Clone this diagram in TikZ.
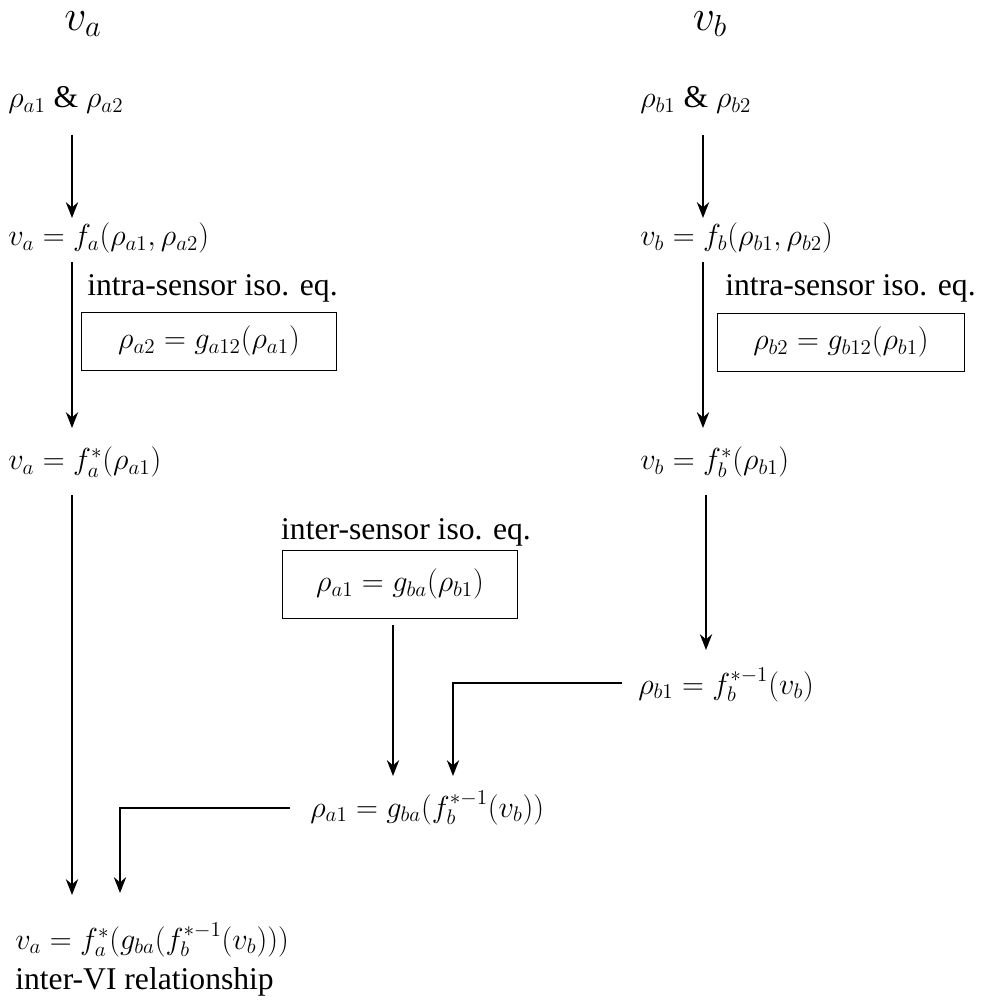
\documentclass[tikz,border=0pt]{standalone}
\usepackage{fontspec}
\setmainfont{Liberation Serif}
\usetikzlibrary{arrows.meta}
\begin{document}
\begin{tikzpicture}[x=0.02cm,y=-0.02cm,
  every node/.style={font=\fontsize{18}{22}\selectfont,inner sep=0pt},
  eq/.style={anchor=west},
  bx/.style={draw,line width=0.5pt,minimum width=#1*0.02cm,minimum height=58*0.02cm},
  ar/.style={line width=1pt,-{Stealth[length=9pt,width=7pt]}},
  ln/.style={line width=1pt}]
\useasboundingbox (0,0) rectangle (985,1000);
\node (VA) at (83,24) {\fontsize{26}{30}\selectfont $v_a$};
\node (VB) at (710,24) {\fontsize{26}{30}\selectfont $v_b$};
% left column
\node[eq] (a1) at (8,100) {$\rho_{a1}$ \& $\rho_{a2}$};
\node[eq] (a2) at (8,238) {$v_a = f_a(\rho_{a1},\rho_{a2})$};
\node[eq] (la) at (87,288) {intra-sensor iso. eq.};
\node[bx=255] (ba) at (209,341) {$\rho_{a2} = g_{a12}(\rho_{a1})$};
\node[eq] (a3) at (8,462) {$v_a = f^*_a(\rho_{a1})$};
\coordinate (a1s) at (72,135); \coordinate (a1e) at (72,218);
\coordinate (a2s) at (72,262); \coordinate (a2e) at (72,428);
\coordinate (a3s) at (72,495); \coordinate (a3e) at (72,895);
\draw[ar] (a1s) -- (a1e);
\draw[ar] (a2s) -- (a2e);
\draw[ar] (a3s) -- (a3e);
% right column
\node[eq] (b1) at (640,100) {$\rho_{b1}$ \& $\rho_{b2}$};
\node[eq] (b2) at (640,238) {$v_b = f_b(\rho_{b1},\rho_{b2})$};
\node[eq] (lb) at (725,288) {intra-sensor iso. eq.};
\node[bx=247] (bb) at (841,342) {$\rho_{b2} = g_{b12}(\rho_{b1})$};
\node[eq] (b3) at (640,462) {$v_b = f^*_b(\rho_{b1})$};
\node[eq] (b4) at (638,685) {$\rho_{b1} = f^{*-1}_b(v_b)$};
\coordinate (b1s) at (703,135); \coordinate (b1e) at (703,218);
\coordinate (b2s) at (703,262); \coordinate (b2e) at (703,428);
\coordinate (b3s) at (706,495); \coordinate (b3e) at (706,650);
\draw[ar] (b1s) -- (b1e);
\draw[ar] (b2s) -- (b2e);
\draw[ar] (b3s) -- (b3e);
% middle
\node (lc) at (406,532) {inter-sensor iso. eq.};
\node[bx=235,minimum height=68*0.02cm] (bc) at (400,584) {$\rho_{a1} = g_{ba}(\rho_{b1})$};
\node[eq] (c1) at (310,808) {$\rho_{a1} = g_{ba}(f^{*-1}_b(v_b))$};
\coordinate (c0s) at (393,625); \coordinate (c0e) at (393,776);
\draw[ar] (c0s) -- (c0e);
\coordinate (k1) at (622,683); \coordinate (k1e) at (453,776);
\draw[ar] (k1) -| (k1e);
\coordinate (k2) at (290,808); \coordinate (k2e) at (120,893);
\draw[ar] (k2) -| (k2e);
% bottom
\node[eq] (d1) at (15,940) {$v_a = f^*_a(g_{ba}(f^{*-1}_b(v_b)))$};
\node[eq] (d2) at (15,982) {inter-VI relationship};
\end{tikzpicture}
\end{document}
